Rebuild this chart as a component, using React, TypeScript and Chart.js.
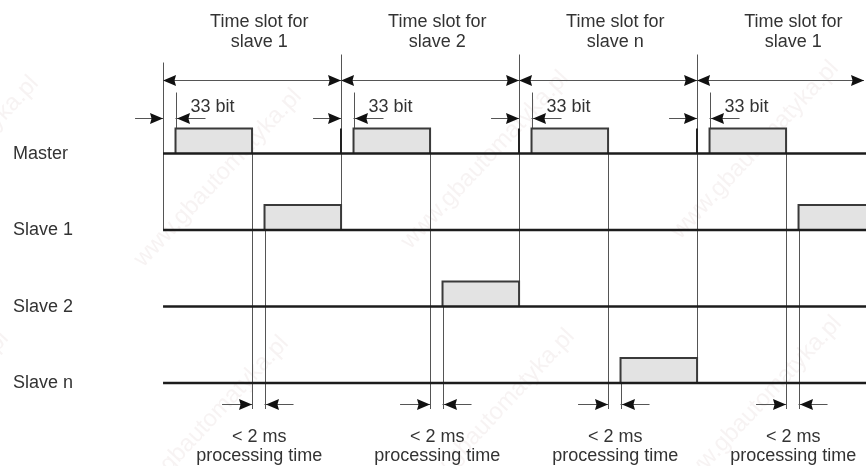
import React, { useEffect, useRef } from "react";
import { Chart, registerables } from "chart.js";

Chart.register(...registerables);

// ---------------- data (time in arbitrary units, one slot = 100) ----------------
const rowNames = ["Master", "Slave 1", "Slave 2", "Slave n"];
const slotNames = ["slave 1", "slave 2", "slave n", "slave 1"];
const slotStarts = [0, 100, 200, 300];
const slotEnds = [100, 200, 300, 400];
const masterStarts = [7, 107, 207, 307];
const masterEnds = [50, 150, 250, 350];
const responseRows = [1, 2, 3, 1];
const responseStarts = [57, 157, 257, 357];
const responseEnds = [100, 200, 300, 400];
const boundaryRows = [1, 1, 2, 3];
const slotTitle = "Time slot for";
const bitLabel = "33 bit";
const procLabels = ["< 2 ms", "processing time"];
const watermark = "www.gbautomatyka.pl";

// ---------------- layout ----------------
const X_MIN = -91.6;
const X_MAX = 394.9;
const Y_MIN = -2.007;
const Y_MAX = 4.085;
const PULSE = 0.327;
const FONT = '18px "Liberation Sans", Arial, sans-serif';
const TEXT = "#333";
const WM_POS: [number, number][] = [
  [-45, 165], [218, 178], [485, 160], [755, 150],
  [-75, 420], [205, 425], [491, 418], [758, 405],
  [180, -95], [450, -90], [770, -100],
];

function pulse(s: number, e: number, r: number) {
  return {
    label: "pulse",
    data: [
      { x: s, y: r },
      { x: s, y: r - PULSE },
      { x: e, y: r - PULSE },
      { x: e, y: r },
    ],
    borderColor: "#3a3a3a",
    borderWidth: 2,
    backgroundColor: "#e3e3e3",
    fill: { value: r },
    pointRadius: 0,
    tension: 0,
    order: 1,
  };
}

function head(ctx: CanvasRenderingContext2D, x: number, y: number, dir: number) {
  const L = 13, W = 5.5;
  ctx.beginPath();
  ctx.moveTo(x, y);
  ctx.lineTo(x - dir * L, y - W);
  ctx.lineTo(x - dir * L * 0.88, y);
  ctx.lineTo(x - dir * L, y + W);
  ctx.closePath();
  ctx.fill();
}

function hline(ctx: CanvasRenderingContext2D, a: number, b: number, y: number) {
  const yy = Math.round(y) + 0.5;
  ctx.beginPath();
  ctx.moveTo(a, yy);
  ctx.lineTo(b, yy);
  ctx.stroke();
}

function vline(ctx: CanvasRenderingContext2D, x: number, y1: number, y2: number) {
  const xx = Math.round(x) + 0.5;
  ctx.beginPath();
  ctx.moveTo(xx, y1);
  ctx.lineTo(xx, y2);
  ctx.stroke();
}

const diagramPlugin = {
  id: "diagram",
  beforeDatasetsDraw(chart: any) {
    const ctx: CanvasRenderingContext2D = chart.ctx;
    const X = (v: number) => chart.scales.x.getPixelForValue(v);
    const Y = (v: number) => chart.scales.y.getPixelForValue(v);
    ctx.save();
    // watermark
    ctx.font = '24px "Liberation Sans", Arial, sans-serif';
    ctx.fillStyle = "rgba(200,175,175,0.15)";
    ctx.textAlign = "center";
    ctx.textBaseline = "middle";
    for (const [cx, cy] of WM_POS) {
      ctx.save();
      ctx.translate(cx, cy);
      ctx.rotate(-0.82);
      ctx.fillText(watermark, 0, 0);
      ctx.restore();
    }
    // vertical guide lines
    ctx.strokeStyle = "#555";
    ctx.lineWidth = 1;
    const procBottom = Y(3) + 26;
    slotStarts.forEach((s, k) => {
      const top = k === 0 ? Y(0) - 91 : Y(0) - 99;
      vline(ctx, X(s), top, Y(boundaryRows[k]));
      vline(ctx, X(masterStarts[k]), Y(0) - 61, Y(-PULSE));
      vline(ctx, X(masterEnds[k]), Y(-PULSE), procBottom);
      vline(ctx, X(responseStarts[k]), Y(responseRows[k] - PULSE), procBottom);
    });
    ctx.strokeStyle = "#222";
    ctx.lineWidth = 2;
    slotStarts.forEach((s, k) => {
      if (k > 0) {
        const xx = Math.round(X(s));
        ctx.beginPath();
        ctx.moveTo(xx, Y(-PULSE));
        ctx.lineTo(xx, Y(0));
        ctx.stroke();
      }
    });
    ctx.restore();
  },
  afterDatasetsDraw(chart: any) {
    const ctx: CanvasRenderingContext2D = chart.ctx;
    const X = (v: number) => chart.scales.x.getPixelForValue(v);
    const Y = (v: number) => chart.scales.y.getPixelForValue(v);
    ctx.save();
    ctx.strokeStyle = "#555";
    ctx.fillStyle = "#111";
    ctx.lineWidth = 1;
    const topY = Y(0) - 74;
    const bitY = Y(0) - 36;
    const procY = Y(3) + 21;
    slotStarts.forEach((s, k) => {
      const a = X(s);
      const b = Math.min(X(slotEnds[k]), chart.width - 2);
      hline(ctx, a, b, topY);
      head(ctx, a, Math.round(topY) + 0.5, -1);
      head(ctx, b, Math.round(topY) + 0.5, 1);

      const ms = X(masterStarts[k]);
      hline(ctx, a - 28, a, bitY);
      head(ctx, Math.round(a), Math.round(bitY) + 0.5, 1);
      hline(ctx, ms, ms + 30, bitY);
      head(ctx, Math.round(ms) + 1, Math.round(bitY) + 0.5, -1);

      const me = X(masterEnds[k]);
      const rs = X(responseStarts[k]);
      hline(ctx, me - 30, me, procY);
      head(ctx, Math.round(me), Math.round(procY) + 0.5, 1);
      hline(ctx, rs, rs + 29, procY);
      head(ctx, Math.round(rs) + 1, Math.round(procY) + 0.5, -1);
    });

    ctx.fillStyle = TEXT;
    ctx.font = FONT;
    ctx.textBaseline = "alphabetic";
    // 33 bit labels
    ctx.textAlign = "left";
    masterStarts.forEach((m) => {
      ctx.fillText(bitLabel, X(m) + 15, Y(0) - 42);
    });
    // slot titles & processing labels
    ctx.textAlign = "center";
    slotStarts.forEach((s, k) => {
      const cx = X((masterEnds[k] + responseStarts[k]) / 2) + 1;
      ctx.fillText(slotTitle, cx, Y(0) - 126.5);
      ctx.fillText(slotNames[k], cx, Y(0) - 106.5);
      ctx.fillText(procLabels[0], cx, Y(3) + 59);
      ctx.fillText(procLabels[1], cx, Y(3) + 78);
    });
    // row labels
    ctx.textAlign = "left";
    rowNames.forEach((n, i) => {
      ctx.fillText(n, 13, Y(i) + 5);
    });
    ctx.restore();
  },
};

export default function App() {
  const ref = useRef<HTMLCanvasElement>(null);
  useEffect(() => {
    const baselines = rowNames.map((n, i) => ({
      label: n,
      data: [
        { x: slotStarts[0], y: i },
        { x: X_MAX, y: i },
      ],
      borderColor: "#1c1c1c",
      borderWidth: 2.5,
      pointRadius: 0,
      fill: false,
      tension: 0,
      order: 0,
    }));
    const masterPulses = masterStarts.map((s, k) => pulse(s, masterEnds[k], 0));
    const responsePulses = responseStarts.map((s, k) =>
      pulse(s, responseEnds[k], responseRows[k])
    );
    const chart = new Chart(ref.current as HTMLCanvasElement, {
      type: "line",
      data: { datasets: [...baselines, ...masterPulses, ...responsePulses] as any },
      options: {
        animation: false,
        responsive: false,
        maintainAspectRatio: false,
        devicePixelRatio: 1,
        events: [],
        layout: { padding: 0 },
        scales: {
          x: { type: "linear", display: false, min: X_MIN, max: X_MAX },
          y: { type: "linear", display: false, min: Y_MIN, max: Y_MAX, reverse: true },
        },
        plugins: {
          legend: { display: false },
          tooltip: { enabled: false },
        },
      },
      plugins: [diagramPlugin],
    });
    return () => chart.destroy();
  }, []);
  return (
    <div
      style={{
        position: "fixed",
        left: 0,
        top: 0,
        width: 866,
        height: 466,
        background: "#fff",
      }}
    >
      <canvas ref={ref} width={866} height={466} style={{ display: "block" }} />
    </div>
  );
}
